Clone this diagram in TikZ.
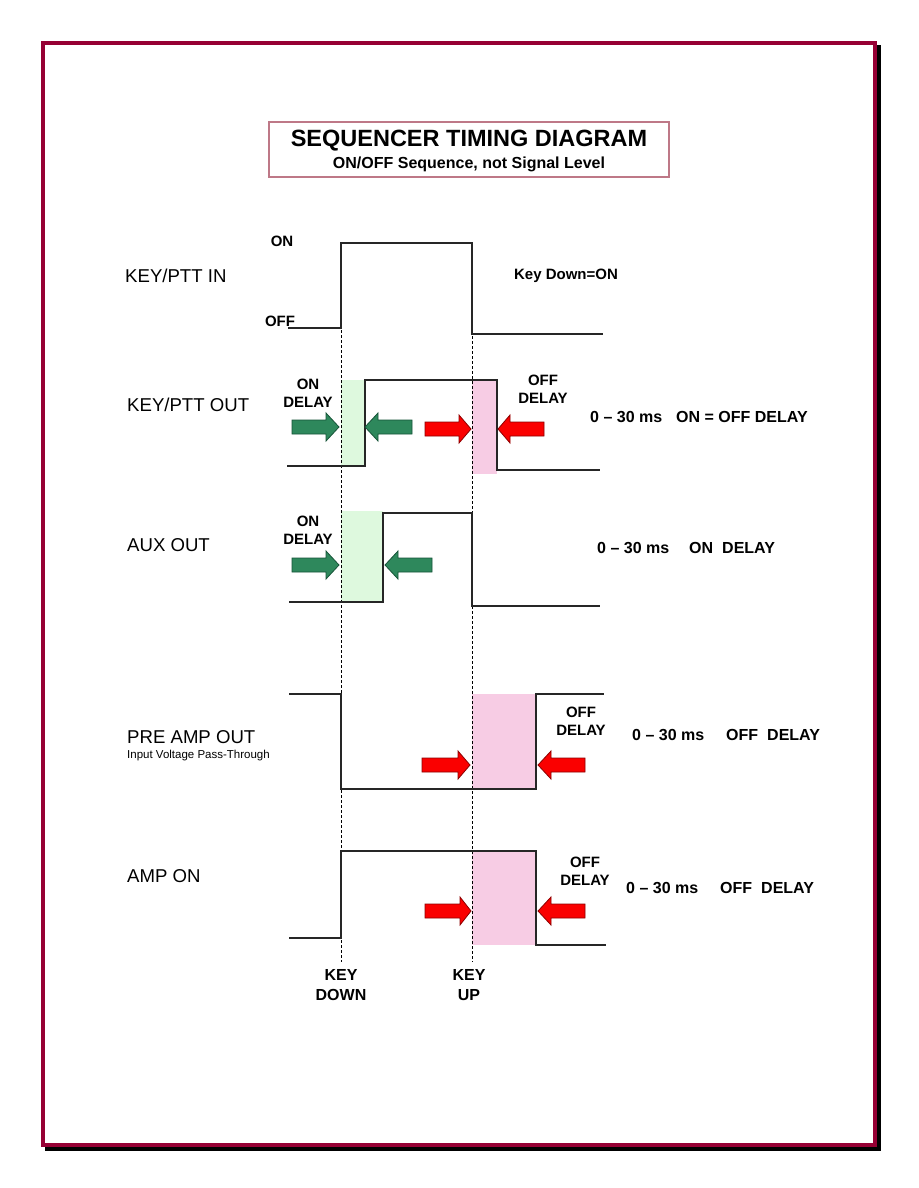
\documentclass[tikz,border=0pt]{standalone}
\usepackage{fontspec}
\setmainfont{Liberation Sans}
\usetikzlibrary{positioning}
\definecolor{colFRAME}{RGB}{150,0,52}
\definecolor{colTITLE}{RGB}{190,120,135}
\definecolor{colON}{RGB}{46,136,92}
\definecolor{colONedge}{RGB}{22,84,56}
\definecolor{colOFF}{RGB}{250,0,0}
\definecolor{colOFFedge}{RGB}{140,0,0}
\definecolor{colONbox}{RGB}{222,249,222}
\definecolor{colOFFbox}{RGB}{247,204,228}
% block arrow: style, tail x, neck x, tip x, y
\newcommand{\delayarrow}[5]{%
  \draw[#1] (#2,#5-7) -- (#3,#5-7) -- (#3,#5-14) -- (#4,#5)
    -- (#3,#5+14) -- (#3,#5+7) -- (#2,#5+7) -- cycle;}

\begin{document}
\begin{tikzpicture}[x=1pt, y=-1pt,
    every node/.style={inner sep=0pt},
    sig/.style={line width=1.3pt, draw=black!85},
    keymark/.style={line width=0.9pt, dash pattern=on 3pt off 2pt},
    onarrow/.style={fill=colON, draw=colONedge, line width=0.8pt},
    offarrow/.style={fill=colOFF, draw=colOFFedge, line width=0.8pt},
    lbl/.style={font=\fontsize{18.6}{22}\selectfont, anchor=west},
    tag/.style={font=\bfseries\fontsize{15}{18}\selectfont, align=center},
    note/.style={font=\bfseries\fontsize{16}{19}\selectfont, anchor=west}]
  \useasboundingbox (0,0) rectangle (918,1188);
  % Page frame with shadow
  \fill[black] (45,45) rectangle (881,1151);
  \fill[colFRAME] (41,41) rectangle (877,1147);
  \fill[white] (45,45) rectangle (873,1143);
  % Title
  \draw[colTITLE, line width=1.2pt] (269,122) rectangle (669,177);
  \node[font=\bfseries\fontsize{23.5}{26}\selectfont] (title) at (469,141) {SEQUENCER TIMING DIAGRAM};
  \node[font=\bfseries\fontsize{16}{19}\selectfont] (subtitle) at (469,164) {ON/OFF Sequence, not Signal Level};
  % Delay windows
  \fill[colONbox] (341,380) rectangle (365,466);
  \fill[colOFFbox] (472,380) rectangle (497,474);
  \fill[colONbox] (341,511) rectangle (383,602);
  \fill[colOFFbox] (472,694) rectangle (536,789);
  \fill[colOFFbox] (472,851) rectangle (536,945);
  % Key down / key up markers
  \draw[keymark] (341,330) -- (341,962);
  \draw[keymark] (472,336) -- (472,962);
  % Signals
  \draw[sig] (288,328) -- (341,328) -- (341,243) -- (472,243) -- (472,334) -- (603,334);
  \draw[sig] (287,466) -- (365,466) -- (365,380) -- (497,380) -- (497,470) -- (600,470);
  \draw[sig] (289,602) -- (383,602) -- (383,513) -- (472,513) -- (472,606) -- (600,606);
  \draw[sig] (289,694) -- (341,694) -- (341,789) -- (536,789) -- (536,694) -- (604,694);
  \draw[sig] (289,938) -- (341,938) -- (341,851) -- (536,851) -- (536,945) -- (606,945);
  % Arrows
  \delayarrow{onarrow}{292}{326}{339}{427}
  \delayarrow{onarrow}{412}{378}{365}{427}
  \delayarrow{offarrow}{425}{459}{471}{429}
  \delayarrow{offarrow}{544}{510}{498}{429}
  \delayarrow{onarrow}{292}{326}{339}{565}
  \delayarrow{onarrow}{432}{398}{385}{565}
  \delayarrow{offarrow}{422}{458}{470}{765}
  \delayarrow{offarrow}{585}{551}{538}{765}
  \delayarrow{offarrow}{425}{460}{471}{911}
  \delayarrow{offarrow}{585}{551}{538}{911}
  % Signal names
  \node[lbl] (keyin) at (125,276) {KEY/PTT IN};
  \node[lbl] (keyout) at (127,405) {KEY/PTT OUT};
  \node[lbl] (aux) at (127,545) {AUX OUT};
  \node[lbl] (preamp) at (127,737) {PRE AMP OUT};
  \node[anchor=west, font=\fontsize{11.5}{13}\selectfont] (pass) at (127,756) {Input Voltage Pass-Through};
  \node[lbl] (ampon) at (127,876) {AMP ON};
  % Levels
  \node[tag] (lvlon) at (282,241) {ON};
  \node[tag] (lvloff) at (280,321) {OFF};
  \node[tag] (keydown) at (566,276) {Key Down=ON};
  % Delay tags
  \node[tag] (ondly1) at (308,393) {ON\\DELAY};
  \node[tag] (offdly1) at (543,389) {OFF\\DELAY};
  \node[tag] (ondly2) at (308,530) {ON\\DELAY};
  \node[tag] (offdly2) at (581,721) {OFF\\DELAY};
  \node[tag] (offdly3) at (585,871) {OFF\\DELAY};
  \node[tag, font=\bfseries\fontsize{16}{20}\selectfont] (kdown) at (341,985) {KEY\\DOWN};
  \node[tag, font=\bfseries\fontsize{16}{20}\selectfont] (kup) at (469,985) {KEY\\UP};
  % Timing notes
  \node[note] (t1) at (590,417) {0 -- 30 ms\hspace{14pt}ON = OFF DELAY};
  \node[note] (t2) at (597,548) {0 -- 30 ms\hspace{20pt}ON\hspace{9pt}DELAY};
  \node[note] (t3) at (632,735) {0 -- 30 ms\hspace{22pt}OFF\hspace{9pt}DELAY};
  \node[note] (t4) at (626,888) {0 -- 30 ms\hspace{22pt}OFF\hspace{9pt}DELAY};
\end{tikzpicture}
\end{document}
